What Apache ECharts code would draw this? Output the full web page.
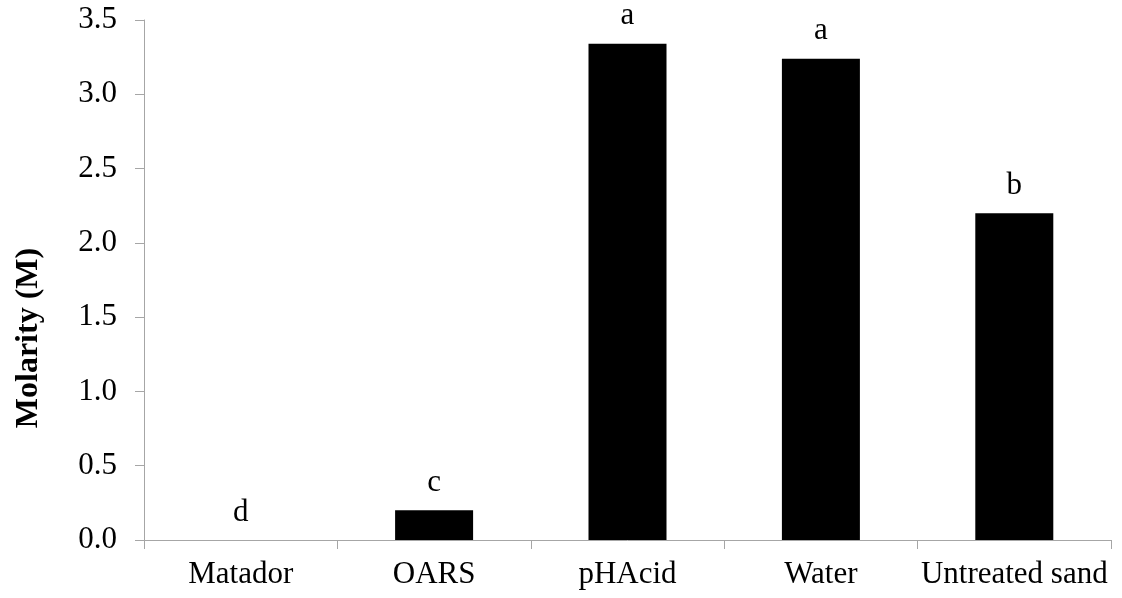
<!DOCTYPE html>
<html>
<head>
<meta charset="utf-8">
<script src="https://cdn.jsdelivr.net/npm/echarts@6/dist/echarts.min.js"></script>
<style>
html,body{margin:0;padding:0;background:#fff;}
#chart{width:1122px;height:598px;}
</style>
</head>
<body>
<div id="chart"></div>
<script>
const categories = ['Matador', 'OARS', 'pHAcid', 'Water', 'Untreated sand'];
const molarity = [0, 0.2, 3.34, 3.24, 2.2];
const letters = ['d', 'c', 'a', 'a', 'b'];
const yTicks = [0, 0.5, 1.0, 1.5, 2.0, 2.5, 3.0, 3.5];
const yTitle = 'Molarity (M)';

const FONT = '"Liberation Serif", "Times New Roman", serif';
const AXIS_COLOR = '#a6a6a6';

const chart = echarts.init(document.getElementById('chart'));
chart.setOption({
  animation: false,
  backgroundColor: '#ffffff',
  grid: { left: 144, right: 11, top: 20, bottom: 58, containLabel: false },
  xAxis: {
    type: 'category',
    data: categories,
    axisLine: { lineStyle: { color: AXIS_COLOR, width: 1 } },
    axisTick: { show: true, length: 9, lineStyle: { color: AXIS_COLOR } },
    axisLabel: { color: '#000', fontFamily: FONT, fontSize: 31, margin: 19, interval: 0 },
    splitLine: { show: false }
  },
  yAxis: {
    type: 'value',
    min: yTicks[0],
    max: yTicks[yTicks.length - 1],
    interval: 0.5,
    axisLine: { show: true, lineStyle: { color: AXIS_COLOR, width: 1 } },
    axisTick: { show: true, length: 9, lineStyle: { color: AXIS_COLOR } },
    axisLabel: { color: '#000', fontFamily: FONT, fontSize: 31, margin: 27, formatter: v => v.toFixed(1) },
    splitLine: { show: false }
  },
  graphic: [{
    type: 'text',
    rotation: Math.PI / 2,
    style: {
      text: yTitle,
      font: 'bold 32px ' + FONT,
      fill: '#000',
      textAlign: 'center',
      textVerticalAlign: 'middle'
    },
    x: 29, y: 338
  }],
  series: [{
    type: 'bar',
    data: molarity,
    barWidth: 78,
    itemStyle: { color: '#000' },
    label: {
      show: true,
      position: 'top',
      distance: 12,
      color: '#000',
      fontFamily: FONT,
      fontSize: 31,
      formatter: p => letters[p.dataIndex]
    }
  }]
});
</script>
</body>
</html>
